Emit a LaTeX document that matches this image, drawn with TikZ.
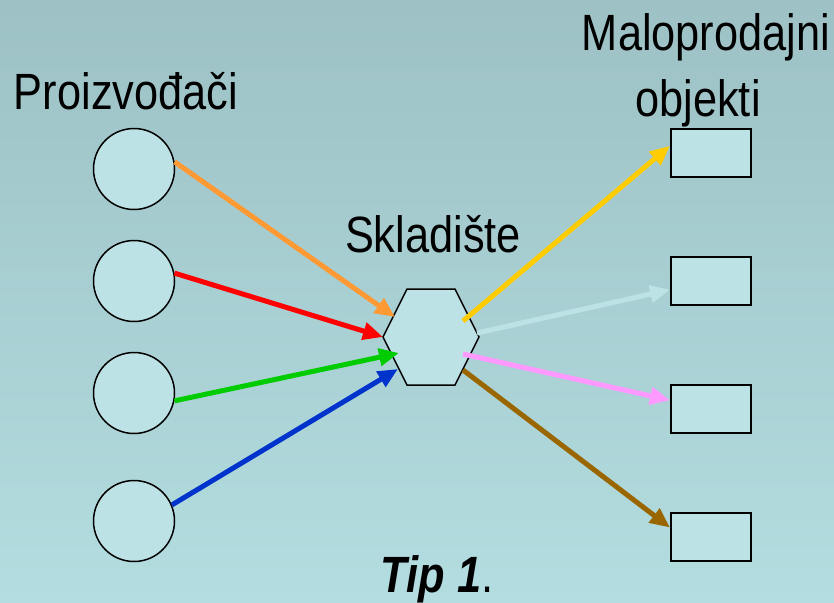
\documentclass[tikz,border=0pt]{standalone}
\usepackage{fontspec}
\setmainfont{Liberation Sans}[FakeStretch=0.85]
\usetikzlibrary{arrows.meta}

\definecolor{bgtop}{HTML}{9DC1C5}
\definecolor{bgbot}{HTML}{B3DDE0}
\definecolor{boxfill}{HTML}{BDE2E5}
\definecolor{orangeflow}{HTML}{FF9933}
\definecolor{redflow}{HTML}{FF0000}
\definecolor{greenflow}{HTML}{00CC00}
\definecolor{blueflow}{HTML}{0033CC}
\definecolor{yellowflow}{HTML}{FFCC00}
\definecolor{paleflow}{HTML}{BDE2E5}
\definecolor{pinkflow}{HTML}{FF99FF}
\definecolor{brownflow}{HTML}{996600}

\tikzset{
    producer/.style={circle,draw,line width=1.5pt,fill=boxfill,minimum size=81pt,inner sep=0pt},
    shop/.style={rectangle,draw,line width=2pt,fill=boxfill,minimum width=80pt,minimum height=48pt,inner sep=0pt},
    flow/.style={line width=5pt,-{Triangle[length=20pt,width=17pt]}},
    title/.style={inner sep=0pt,font=\fontsize{51}{61}\selectfont}
}

\begin{document}
\begin{tikzpicture}[x=1pt,y=-1pt]
        \useasboundingbox (0,0) rectangle (834,602);
        \shade[top color=bgtop,bottom color=bgbot] (0,0) rectangle (834,602);

        % proizvodjaci i maloprodajni objekti
        \foreach \y [count=\i] in {169,281,393,521}
            \node[producer] (p\i) at (134,\y) {};
        \foreach \y [count=\i] in {153,281,409,537}
            \node[shop] (s\i) at (711,\y) {};

        % skladiste
        \coordinate (hub) at (431,337);
        \begin{scope}[shift={(hub)}]
            \draw[line width=1.5pt,fill=boxfill] (-48,0) -- (-24,-48) -- (24,-48) -- (48,0) -- (24,48) -- (-24,48) -- cycle;
            \coordinate (in1) at (-36,-20);
            \coordinate (in2) at (-48,0);
            \coordinate (in3) at (-32,16);
            \coordinate (in4) at (-33,32);
            \coordinate (out1) at (32,-16);
            \coordinate (out2) at (46,-4);
            \coordinate (out3) at (32,17);
            \coordinate (out4) at (32,33);
        \end{scope}

        \draw[flow,orangeflow] (p1.10) -- (in1);
        \draw[flow,redflow] (p2.11) -- (in2);
        \draw[flow,greenflow] (p3.349) -- (in3);
        \draw[flow,blueflow] (p4.23) -- (in4);

        \draw[flow,yellowflow] (out1) -- (s1.170);
        \draw[flow,paleflow] (out2) -- (s2.192);
        \draw[flow,pinkflow] (out3) -- (s3.168);
        \draw[flow,brownflow] (out4) -- (s4.167);

        \node[title,anchor=base] (tproducers) at (126,109) {Proizvođači};
        \node[title,anchor=base] (tshops1) at (706,51) {Maloprodajni};
        \node[title,anchor=base] (tshops2) at (698,116) {objekti};
        \node[title,anchor=base] (thub) at (433,252) {Skladište};
        \node[title,anchor=base] (ttype) at (437,592) {\textbf{\textit{Tip 1}}.};
    \end{tikzpicture}
\end{document}
